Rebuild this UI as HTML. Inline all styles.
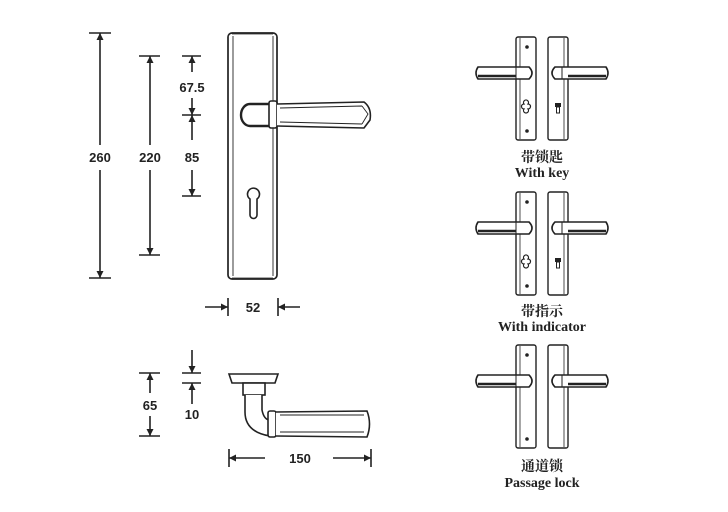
<!DOCTYPE html>
<html><head><meta charset="utf-8"><style>
html,body{margin:0;padding:0;background:#fff;}
svg{display:block}
.t{font-family:"Liberation Sans",sans-serif;font-weight:bold;font-size:13px;fill:#222}
.c{font-family:"Liberation Serif","Noto Serif CJK SC",serif;font-size:14px;font-weight:bold;fill:#222}
</style></head><body>
<svg width="728" height="512" viewBox="0 0 728 512" xmlns="http://www.w3.org/2000/svg">
<defs>
<marker id="a" viewBox="0 0 10 10" refX="10" refY="5" markerWidth="7" markerHeight="11" orient="auto-start-reverse" markerUnits="userSpaceOnUse"><path d="M0,0L10,5L0,10z" fill="#222"/></marker>
<g id="pairL">
 <rect x="0" y="0" width="20" height="103" rx="2" fill="#fff" stroke="#222" stroke-width="1.4"/>
 <line x1="4" y1="1" x2="4" y2="102" stroke="#222" stroke-width="0.8"/>
 <path d="M13,30 L-38,30 Q-42,36 -38,42 L13,42 Q19,36 13,30z" fill="#fff" stroke="#222" stroke-width="1.6"/>
 <line x1="-38" y1="39" x2="0" y2="39" stroke="#222" stroke-width="2.5"/>
 <line x1="0" y1="30" x2="0" y2="42" stroke="#222"/>
 <circle cx="11" cy="10" r="1.8" fill="#222"/>
 <circle cx="11" cy="94" r="1.8" fill="#222"/>
</g>
<g id="pairR">
 <rect x="0" y="0" width="20" height="103" rx="2" fill="#fff" stroke="#222" stroke-width="1.4"/>
 <line x1="16" y1="1" x2="16" y2="102" stroke="#222" stroke-width="0.8"/>
 <path d="M7,30 L58,30 Q62,36 58,42 L7,42 Q1,36 7,30z" fill="#fff" stroke="#222" stroke-width="1.6"/>
 <line x1="20" y1="39" x2="58" y2="39" stroke="#222" stroke-width="2.5"/>
 <line x1="14" y1="30" x2="14" y2="42" stroke="#222"/>
</g>
</defs>
<g stroke="#222" stroke-width="1.6" fill="none">
<line x1="89" y1="33" x2="111" y2="33"/><line x1="89" y1="278" x2="111" y2="278"/>
<line x1="100" y1="33" x2="100" y2="145" marker-start="url(#a)"/>
<line x1="100" y1="170" x2="100" y2="278" marker-end="url(#a)"/>
<line x1="139" y1="56" x2="160" y2="56"/><line x1="139" y1="255" x2="160" y2="255"/>
<line x1="150" y1="56" x2="150" y2="145" marker-start="url(#a)"/>
<line x1="150" y1="170" x2="150" y2="255" marker-end="url(#a)"/>
<line x1="182" y1="56" x2="201" y2="56"/><line x1="182" y1="115" x2="201" y2="115"/><line x1="182" y1="196" x2="201" y2="196"/>
<line x1="192" y1="56" x2="192" y2="72" marker-start="url(#a)"/>
<line x1="192" y1="98" x2="192" y2="115" marker-end="url(#a)"/>
<line x1="192" y1="115" x2="192" y2="140" marker-start="url(#a)"/>
<line x1="192" y1="170" x2="192" y2="196" marker-end="url(#a)"/>
<line x1="228" y1="298" x2="228" y2="316"/><line x1="278" y1="298" x2="278" y2="316"/>
<line x1="205" y1="307" x2="228" y2="307" marker-end="url(#a)"/>
<line x1="300" y1="307" x2="278" y2="307" marker-end="url(#a)"/>
<rect x="228" y="33" width="49" height="246" rx="4" stroke-width="1.7"/>
<line x1="233" y1="36" x2="233" y2="276" stroke-width="0.9"/>
<line x1="273" y1="36" x2="273" y2="276" stroke-width="0.9"/>
<path d="M232,34 L273,34 M232,278 L273,278" stroke-width="0.8"/>
<path d="M269,104 L250,104 A9,11 0 0 0 250,126 L269,126" fill="#fff" stroke-width="2.4"/>
<rect x="269" y="101" width="8" height="27" rx="2" fill="#fff"/>
<path d="M277,104 L364,102 Q372,108 370,120 L364,128 L277,126" fill="#fff"/>
<path d="M280,108 L362,106 M280,122 L362,124 M362,106 L368,114 L362,124" stroke-width="0.9"/>
<path d="M250,215 L250,199 A6,6 0 1 1 257,199 L257,215 A3.5,3.5 0 0 1 250,215z" fill="#fff"/>
<path d="M229,374 L278,374 L275,383 L232,383z" fill="#fff"/>
<rect x="243" y="383" width="22" height="12" fill="#fff"/>
<path d="M245,395 L245,412 Q245,432 270,436 L270,420 Q264,420 262,410 L262,395" fill="#fff"/>
<rect x="268" y="411" width="8" height="26" rx="2" fill="#fff"/>
<path d="M276,412 L367,411 Q372,424 367,437 L276,436" fill="#fff"/>
<path d="M280,415 L364,415 M280,432 L364,432" stroke-width="0.9"/>
<line x1="139" y1="373" x2="160" y2="373"/><line x1="139" y1="436" x2="160" y2="436"/>
<line x1="150" y1="373" x2="150" y2="393" marker-start="url(#a)"/>
<line x1="150" y1="416" x2="150" y2="436" marker-end="url(#a)"/>
<line x1="182" y1="373" x2="201" y2="373"/><line x1="182" y1="383" x2="201" y2="383"/>
<line x1="192" y1="350" x2="192" y2="373" marker-end="url(#a)"/>
<line x1="192" y1="404" x2="192" y2="383" marker-end="url(#a)"/>
<line x1="229" y1="449" x2="229" y2="467"/><line x1="371" y1="449" x2="371" y2="467"/>
<line x1="265" y1="458" x2="229" y2="458" marker-end="url(#a)"/>
<line x1="333" y1="458" x2="371" y2="458" marker-end="url(#a)"/>
</g>
<text class="t" x="100" y="162" text-anchor="middle">260</text>
<text class="t" x="150" y="162" text-anchor="middle">220</text>
<text class="t" x="192" y="92" text-anchor="middle">67.5</text>
<text class="t" x="192" y="162" text-anchor="middle">85</text>
<text class="t" x="253" y="312" text-anchor="middle">52</text>
<text class="t" x="150" y="410" text-anchor="middle">65</text>
<text class="t" x="192" y="419" text-anchor="middle">10</text>
<text class="t" x="300" y="463" text-anchor="middle">150</text>
<use href="#pairL" x="516" y="37"/><use href="#pairR" x="548" y="37"/>
<use href="#pairL" x="516" y="192"/><use href="#pairR" x="548" y="192"/>
<use href="#pairL" x="516" y="345"/><use href="#pairR" x="548" y="345"/>
<g stroke="#222" stroke-width="1.2" fill="#fff">
<path d="M524,104 a2.5,2.5 0 1 1 4,0 a2.5,2.5 0 0 1 0,5 a2.5,2.5 0 1 1 -4,0 a2.5,2.5 0 0 1 0,-5z"/>
<path d="M524,259 a2.5,2.5 0 1 1 4,0 a2.5,2.5 0 0 1 0,5 a2.5,2.5 0 1 1 -4,0 a2.5,2.5 0 0 1 0,-5z"/>
</g>
<rect x="555" y="103" width="6" height="4" fill="#222"/><rect x="556.5" y="107" width="3" height="6" fill="none" stroke="#222"/>
<rect x="555" y="258" width="6" height="4" fill="#222"/><rect x="556.5" y="262" width="3" height="6" fill="none" stroke="#222"/>
<text class="c" x="542" y="162" text-anchor="middle">带锁匙</text>
<text class="c" x="542" y="177" text-anchor="middle" font-size="12">With key</text>
<text class="c" x="542" y="316" text-anchor="middle">带指示</text>
<text class="c" x="542" y="331" text-anchor="middle" font-size="12">With indicator</text>
<text class="c" x="542" y="471" text-anchor="middle">通道锁</text>
<text class="c" x="542" y="487" text-anchor="middle" font-size="12">Passage lock</text>
</svg>
</body></html>
